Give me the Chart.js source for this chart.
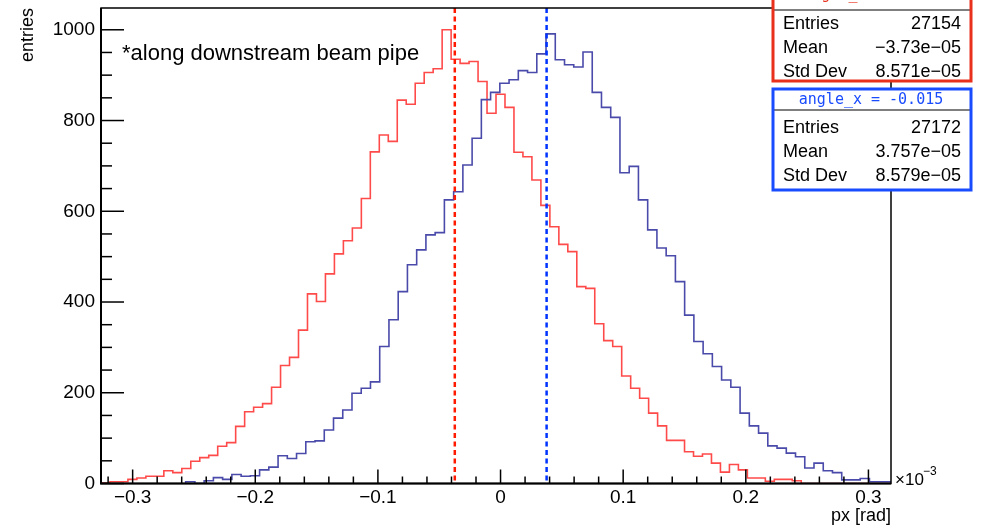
<!DOCTYPE html>
<html>
<head>
<meta charset="utf-8">
<script src="https://cdn.jsdelivr.net/npm/chart.js@4.4.1/dist/chart.umd.min.js"></script>
<style>
  html, body { margin: 0; background: #fff; }
  #wrap { width: 984px; height: 528px; position: relative; }
</style>
</head>
<body>
<div id="wrap"><canvas id="histChart"></canvas></div>
<script>
// x in units of 1e-3 rad
const xMin = -0.3258;
const xMax = 0.3184;
const yMax = 1048;

const xTicks = [-0.3, -0.2, -0.1, 0, 0.1, 0.2, 0.3];
const xTickLabels = ["\u22120.3", "\u22120.2", "\u22120.1", "0", "0.1", "0.2", "0.3"];
const yTicks = [0, 200, 400, 600, 800, 1000];

// angle_x = 0.015 (red)
const redLow = -0.3258;
const redBinWidth = 0.0073206;
const redCounts = [
  1, 4, 4, 9, 12, 16, 16, 28, 24, 33,
  49, 57, 62, 82, 90, 126, 158, 168, 176, 212,
  260, 278, 338, 418, 401, 462, 506, 535, 563, 628,
  731, 768, 754, 845, 836, 882, 906, 914, 1000, 935,
  926, 930, 886, 816, 858, 829, 730, 720, 669, 613,
  566, 527, 511, 434, 430, 352, 315, 302, 237, 210,
  188, 155, 127, 95, 95, 70, 60, 65, 45, 25,
  42, 30, 12, 12, 5, 9, 9, 6, 0, 0,
  0, 0, 0, 0, 0, 0, 0, 0
];

// angle_x = -0.015 (blue)
const blueLow = -0.25676;
const blueBinWidth = 0.0075349;
const blueCounts = [
  4, 0, 6, 13, 9, 20, 16, 17, 30, 36,
  61, 55, 66, 92, 94, 118, 144, 162, 199, 210,
  224, 302, 361, 423, 482, 515, 548, 553, 625, 643,
  702, 761, 846, 862, 882, 890, 910, 906, 947, 991,
  934, 923, 918, 951, 862, 829, 807, 685, 699, 625,
  559, 519, 502, 445, 371, 313, 286, 258, 228, 212,
  155, 127, 111, 83, 78, 67, 59, 34, 45, 28,
  24, 8, 8, 11, 4, 4, 4
];

const statTitles = ["angle_x = 0.015", "angle_x = -0.015"];
const statEntries = ["27154", "27172"];
const statMeans = ["\u22123.73e\u221205", "3.757e\u221205"];
const statStd = ["8.571e\u221205", "8.579e\u221205"];
const meanValues = [-0.0373, 0.03757];

function histPoints(low, width, counts) {
  const pts = [{ x: low, y: 0 }];
  counts.forEach((c, i) => pts.push({ x: low + i * width, y: c }));
  const end = low + counts.length * width;
  pts.push({ x: end, y: counts[counts.length - 1] });
  pts.push({ x: end, y: 0 });
  return pts;
}

const FONT = '"Liberation Sans", Arial, Helvetica, sans-serif';

const rootStyle = {
  id: "rootStyle",
  afterDatasetsDraw(chart) {
    const ctx = chart.ctx;
    const xs = chart.scales.x;
    const ys = chart.scales.y;
    const a = chart.chartArea;
    ctx.save();

    // mean lines
    const meanColors = ["#ff1a00", "#0033ff"];
    ctx.lineWidth = 2.5;
    ctx.setLineDash([5, 3.5]);
    meanValues.forEach((m, i) => {
      const px = xs.getPixelForValue(m);
      ctx.strokeStyle = meanColors[i];
      ctx.beginPath();
      ctx.moveTo(px, a.top);
      ctx.lineTo(px, a.bottom);
      ctx.stroke();
    });
    ctx.setLineDash([]);

    // frame
    ctx.strokeStyle = "#000";
    ctx.lineWidth = 1.5;
    ctx.strokeRect(a.left, a.top, a.right - a.left, a.bottom - a.top);
    ctx.lineWidth = 2;
    ctx.beginPath();
    ctx.moveTo(a.left, a.top);
    ctx.lineTo(a.left, a.bottom);
    ctx.lineTo(a.right, a.bottom);
    ctx.stroke();

    // x ticks
    ctx.lineWidth = 1.5;
    for (let v = -0.32; v <= 0.321; v += 0.02) {
      const px = xs.getPixelForValue(v);
      if (px < a.left || px > a.right) continue;
      const major = Math.abs(Math.round(v * 10) - v * 10) < 1e-6;
      ctx.beginPath();
      ctx.moveTo(px, a.bottom);
      ctx.lineTo(px, a.bottom - (major ? 14 : 7));
      ctx.stroke();
    }
    // y ticks
    for (let v = 0; v <= yMax; v += 50) {
      const py = ys.getPixelForValue(v);
      const major = v % 200 === 0;
      ctx.beginPath();
      ctx.moveTo(a.left, py);
      ctx.lineTo(a.left + (major ? 23 : 11), py);
      ctx.stroke();
    }

    // tick labels
    ctx.fillStyle = "#000";
    ctx.font = "19px " + FONT;
    ctx.textAlign = "center";
    ctx.textBaseline = "middle";
    xTicks.forEach((v, i) => {
      ctx.fillText(xTickLabels[i], xs.getPixelForValue(v), a.bottom + 14);
    });
    ctx.textAlign = "right";
    yTicks.forEach((v) => {
      ctx.fillText(String(v), a.left - 6, ys.getPixelForValue(v));
    });

    // exponent
    ctx.textAlign = "left";
    ctx.textBaseline = "alphabetic";
    ctx.font = "17px " + FONT;
    ctx.fillText("\u00d710", a.right + 4, a.bottom + 1);
    ctx.font = "12px " + FONT;
    ctx.fillText("\u22123", a.right + 32, a.bottom - 9);

    // axis titles
    ctx.font = "18px " + FONT;
    ctx.textAlign = "right";
    ctx.fillText("px [rad]", a.right, 521);
    ctx.save();
    ctx.translate(33, 8);
    ctx.rotate(-Math.PI / 2);
    ctx.fillText("entries", 0, 0);
    ctx.restore();

    // note
    ctx.textAlign = "left";
    ctx.font = "22px " + FONT;
    ctx.fillText("*along downstream beam pipe", 122, 60);

    // stat boxes
    const boxColors = ["#e8301c", "#1a4cff"];
    const boxes = [
      { top: -24, sep: 10, bottom: 81, titleY: -1, rows: [24, 48, 72] },
      { top: 89, sep: 110, bottom: 190, titleY: 104, rows: [128, 152, 176] }
    ];
    const bl = 773, br = 971;
    boxes.forEach((b, i) => {
      ctx.fillStyle = "#fff";
      ctx.fillRect(bl, b.top, br - bl, b.bottom - b.top);
      ctx.strokeStyle = "#000";
      ctx.lineWidth = 1.2;
      ctx.beginPath();
      ctx.moveTo(bl, b.sep);
      ctx.lineTo(br, b.sep);
      ctx.stroke();
      ctx.strokeStyle = boxColors[i];
      ctx.lineWidth = 3;
      ctx.strokeRect(bl, b.top, br - bl, b.bottom - b.top);

      ctx.fillStyle = boxColors[i];
      ctx.font = '15px "DejaVu Sans Mono", monospace';
      ctx.textAlign = "center";
      ctx.textBaseline = "alphabetic";
      ctx.fillText(statTitles[i], 871, b.titleY);

      ctx.fillStyle = "#000";
      ctx.font = "18px " + FONT;
      ctx.textBaseline = "middle";
      const names = ["Entries", "Mean", "Std Dev"];
      const vals = [statEntries[i], statMeans[i], statStd[i]];
      names.forEach((n, r) => {
        ctx.textAlign = "left";
        ctx.fillText(n, 783, b.rows[r]);
        ctx.textAlign = "right";
        ctx.fillText(vals[r], 961, b.rows[r]);
      });
    });

    ctx.restore();
  }
};

new Chart(document.getElementById("histChart"), {
  type: "line",
  data: {
    datasets: [
      {
        label: statTitles[1],
        data: histPoints(blueLow, blueBinWidth, blueCounts),
        borderColor: "#4a4aaa",
        borderWidth: 1.6,
        stepped: true,
        pointRadius: 0,
        fill: false,
      },
      {
        label: statTitles[0],
        data: histPoints(redLow, redBinWidth, redCounts),
        borderColor: "#ff4a4a",
        borderWidth: 1.6,
        stepped: true,
        pointRadius: 0,
        fill: false,
      },
    ],
  },
  options: {
    responsive: true,
    maintainAspectRatio: false,
    animation: false,
    devicePixelRatio: 1,
    layout: { padding: { left: 101, right: 93, top: 8, bottom: 44.5 } },
    plugins: { legend: { display: false }, tooltip: { enabled: false } },
    scales: {
      x: { type: "linear", display: false, min: xMin, max: xMax },
      y: { display: false, min: 0, max: yMax },
    },
  },
  plugins: [rootStyle],
});
</script>
</body>
</html>
